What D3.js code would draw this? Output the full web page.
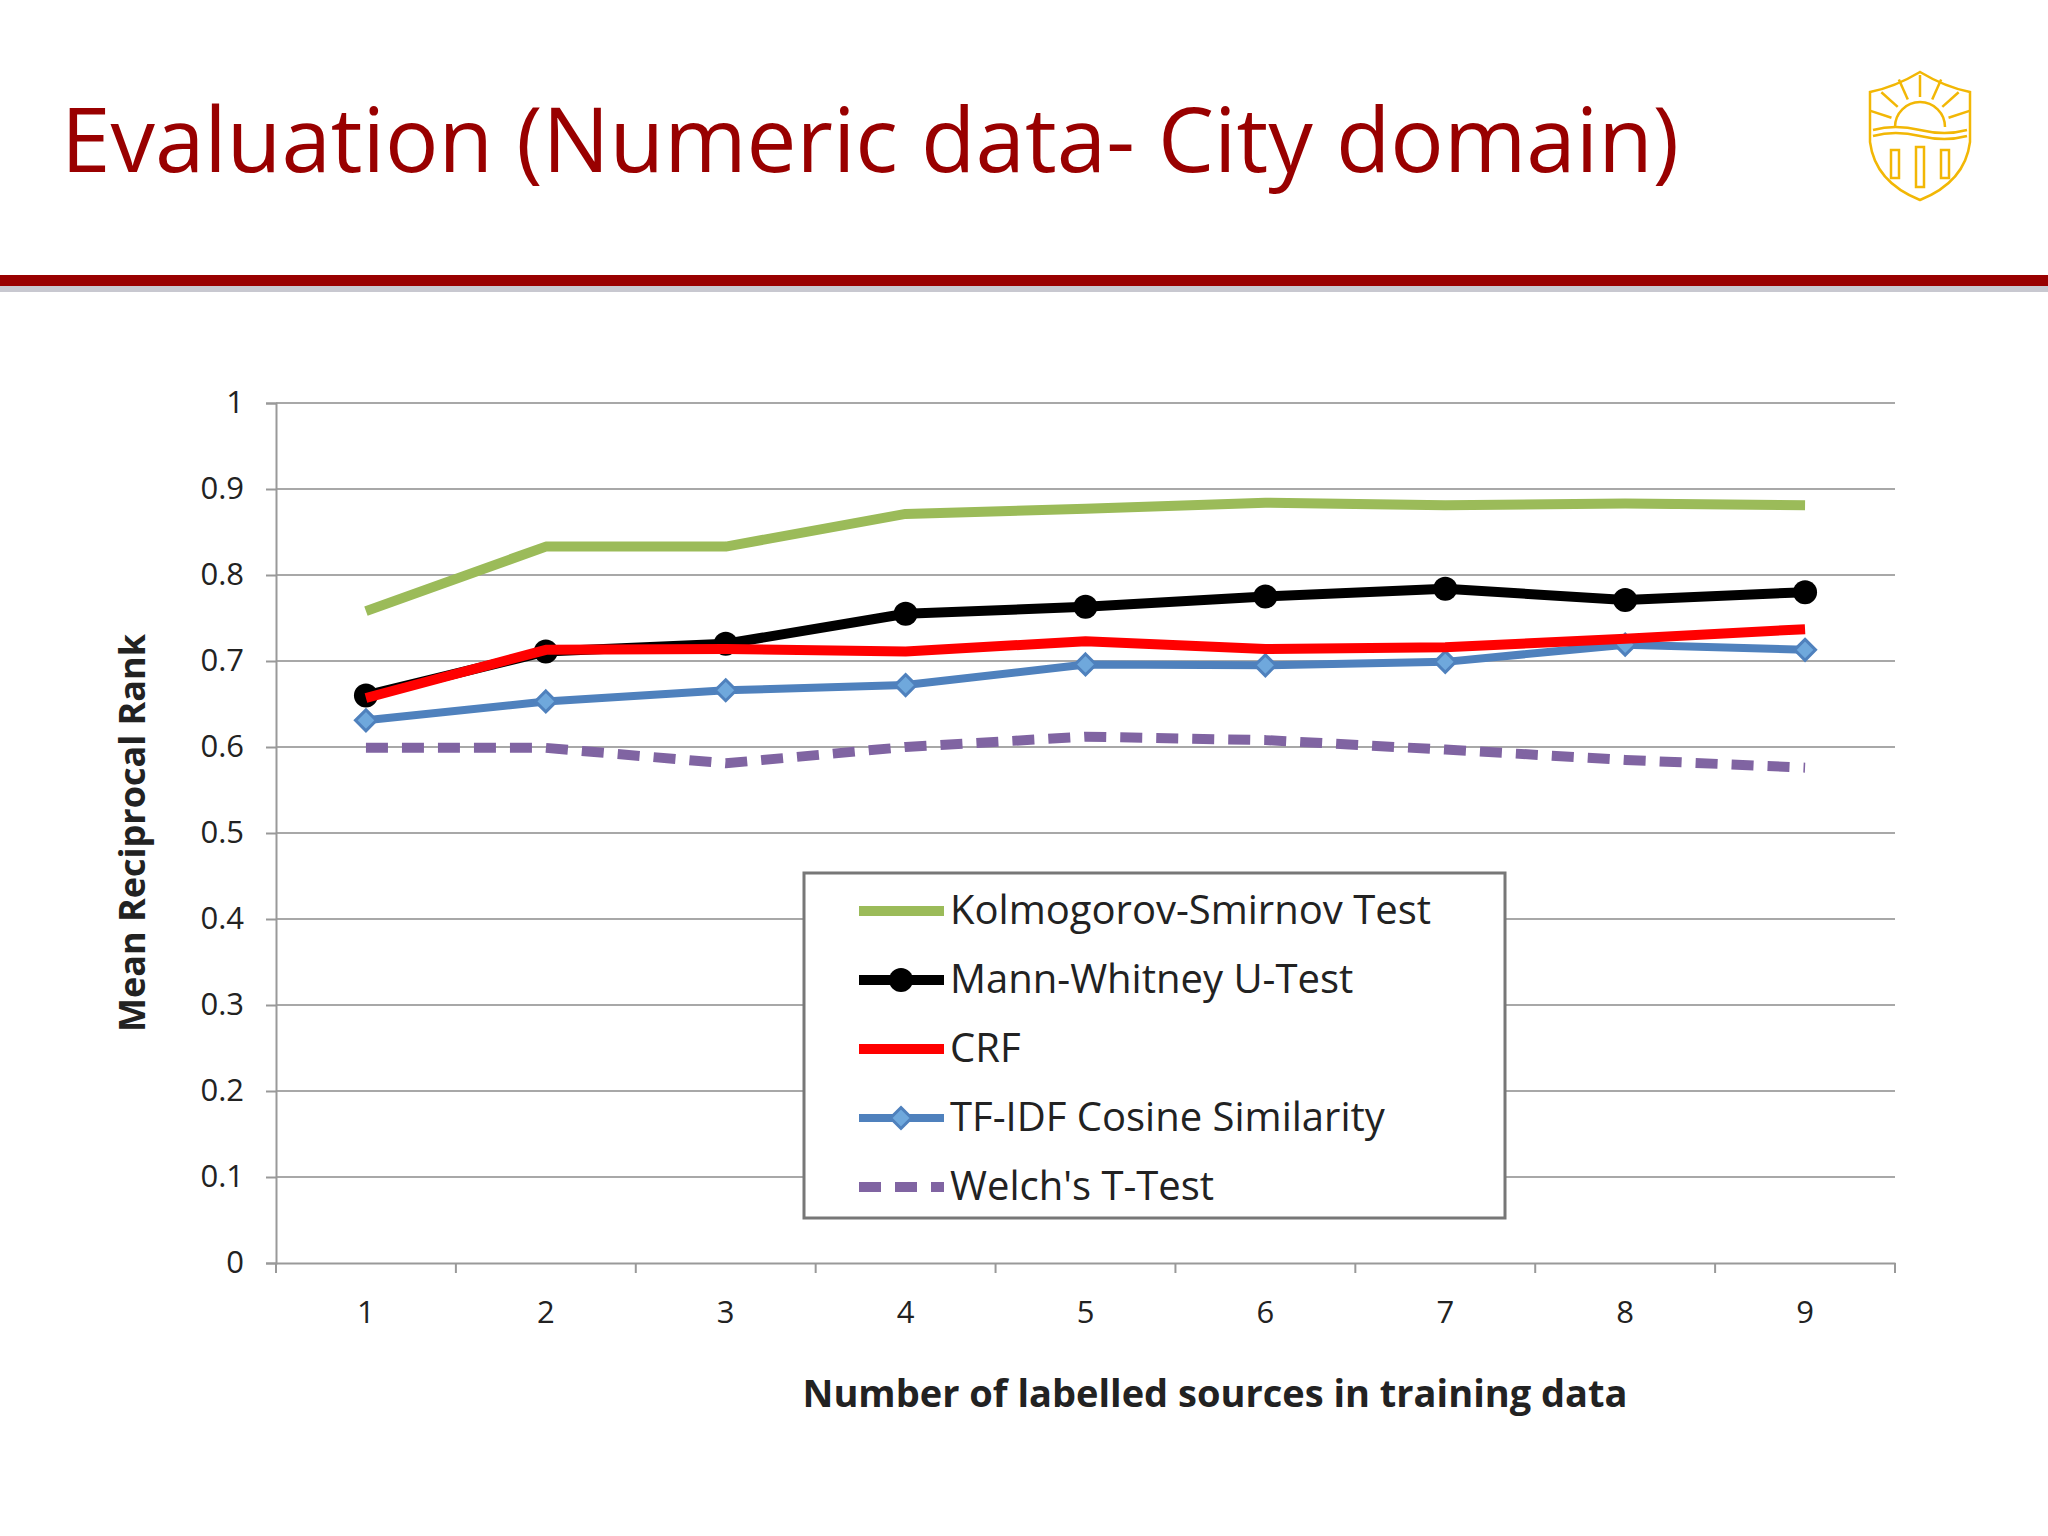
<!DOCTYPE html>
<html><head><meta charset="utf-8">
<script src="https://cdn.jsdelivr.net/npm/d3@7"></script>
<style>body{margin:0;background:#fff}svg{display:block}</style>
</head><body>
<svg id="c" width="2048" height="1536"></svg>
<script>
const categories = [1,2,3,4,5,6,7,8,9];
const yTicks = [0,0.1,0.2,0.3,0.4,0.5,0.6,0.7,0.8,0.9,1];
const seriesNames = ["Kolmogorov-Smirnov Test","Mann-Whitney U-Test","CRF","TF-IDF Cosine Similarity","Welch's T-Test"];
const ksValues = [0.758,0.833,0.833,0.871,0.877,0.884,0.881,0.883,0.881];
const mwValues = [0.660,0.711,0.720,0.755,0.763,0.775,0.784,0.771,0.780];
const crfValues = [0.657,0.713,0.714,0.711,0.723,0.714,0.716,0.726,0.737];
const tfidfValues = [0.631,0.653,0.666,0.672,0.696,0.695,0.699,0.719,0.713];
const welchValues = [0.599,0.599,0.581,0.600,0.612,0.608,0.597,0.585,0.576];

const svg = d3.select("#c");
const F = "'Open Sans', 'Noto Sans', sans-serif";
svg.append("text").attr("x",61).attr("y",172).attr("fill","#990000")
  .attr("font-family",F).attr("font-size",89).text("Evaluation (Numeric data- City domain)");
svg.append("rect").attr("x",0).attr("y",284).attr("width",2048).attr("height",8).attr("fill","#c8c8d0");
svg.append("rect").attr("x",0).attr("y",275).attr("width",2048).attr("height",11).attr("fill","#990000");
const lg = svg.append("g").attr("transform","translate(1870,72)").attr("fill","none").attr("stroke","#f2b705").attr("stroke-width",2.5);
lg.append("path").attr("d","M0,20 Q25,15 50,0 Q75,15 100,20 L100,70 Q95,110 50,128 Q5,110 0,70 Z");
lg.append("path").attr("d","M25,55 A25,25 0 0 1 75,55");
for(let i=0;i<7;i++){const a=Math.PI*(0.1+0.8*i/6);lg.append("line").attr("x1",50-30*Math.cos(a)).attr("y1",55-30*Math.sin(a)).attr("x2",50-52*Math.cos(a)).attr("y2",55-52*Math.sin(a));}
lg.append("path").attr("d","M3,58 Q25,52 50,58 Q75,64 97,58 M3,64 Q25,58 50,64 Q75,70 97,64");
[[25,78],[50,75],[75,78]].forEach(([x,y])=>{lg.append("rect").attr("x",x-4).attr("y",y).attr("width",8).attr("height",x==50?40:28);});

const x0 = 276, x1 = 1895, yTop = 403, yBot = 1263;
const x = d3.scaleBand().domain(categories).range([x0,x1]);
const y = d3.scaleLinear().domain([0,1]).range([yBot,yTop]);
const g = svg.append("g");
g.selectAll(".grid").data(yTicks.slice(1)).join("line").attr("x1",x0).attr("x2",x1)
  .attr("y1",d=>y(d)).attr("y2",d=>y(d)).attr("stroke","#a8a8a8").attr("stroke-width",2);
const ya = g.append("g").attr("transform",`translate(${x0},0)`).call(d3.axisLeft(y).tickValues(yTicks).tickSize(10).tickPadding(22).tickFormat(d=>d3.format("")(d)));
const xa = g.append("g").attr("transform",`translate(0,${yBot})`).call(d3.axisBottom(x).tickSize(0).tickPadding(38));
[ya,xa].forEach(a=>{a.selectAll("path,line").attr("stroke","#999").attr("stroke-width",2);a.selectAll("text").attr("font-family",F).attr("font-size",31).attr("fill","#222");});
g.selectAll(".xt").data(d3.range(categories.length+1)).join("line")
  .attr("x1",i=>x0+i*x.bandwidth()).attr("x2",i=>x0+i*x.bandwidth()).attr("y1",yBot).attr("y2",yBot+10).attr("stroke","#999").attr("stroke-width",2);

svg.append("text").attr("transform",`translate(145,${(yTop+yBot)/2}) rotate(-90)`).attr("text-anchor","middle")
  .attr("font-family",F).attr("font-weight","bold").attr("font-size",36).attr("fill","#222").text("Mean Reciprocal Rank");
svg.append("text").attr("x",1215).attr("y",1407).attr("text-anchor","middle")
  .attr("font-family",F).attr("font-weight","bold").attr("font-size",38).attr("fill","#222").text("Number of labelled sources in training data");

const cx = d=>x(d)+x.bandwidth()/2;
const styles = [
 {vals:ksValues,color:"#9bbb59",w:10},
 {vals:mwValues,color:"#000000",w:10,marker:"circle"},
 {vals:crfValues,color:"#ff0000",w:10},
 {vals:tfidfValues,color:"#4f81bd",w:8,marker:"diamond"},
 {vals:welchValues,color:"#8064a2",w:10,dash:"22,14"}
];
const order=[4,0,1,3,2];
order.forEach(k=>{
  const s=styles[k];
  const line=d3.line().x((d,i)=>cx(categories[i])).y(d=>y(d));
  g.append("path").datum(s.vals).attr("d",line).attr("fill","none").attr("stroke",s.color)
   .attr("stroke-width",s.w).attr("stroke-dasharray",s.dash||null).attr("stroke-linejoin","round");
  if(s.marker=="circle") g.selectAll(null).data(s.vals).join("circle").attr("cx",(d,i)=>cx(categories[i])).attr("cy",d=>y(d)).attr("r",12).attr("fill","#000");
  if(s.marker=="diamond") g.selectAll(null).data(s.vals).join("path").attr("d",d3.symbol(d3.symbolDiamond2,280)).attr("transform",(d,i)=>`translate(${cx(categories[i])},${y(d)})`).attr("fill","#6fa8dc").attr("stroke","#4f81bd").attr("stroke-width",3);
});
const L = svg.append("g").attr("transform","translate(804,873)");
L.append("rect").attr("width",701).attr("height",345).attr("fill","#fff").attr("stroke","#777").attr("stroke-width",3);
seriesNames.forEach((n,i)=>{
  const s=styles[i], yy=38+i*69;
  L.append("line").attr("x1",55).attr("x2",140).attr("y1",yy).attr("y2",yy).attr("stroke",s.color).attr("stroke-width",s.w).attr("stroke-dasharray",s.dash||null);
  if(s.marker=="circle") L.append("circle").attr("cx",97).attr("cy",yy).attr("r",12).attr("fill","#000");
  if(s.marker=="diamond") L.append("path").attr("d",d3.symbol(d3.symbolDiamond2,280)).attr("transform",`translate(97,${yy})`).attr("fill","#6fa8dc").attr("stroke","#4f81bd").attr("stroke-width",3);
  L.append("text").attr("x",146).attr("y",yy+13).attr("font-family",F).attr("font-size",40).attr("fill","#222").text(n);
});
</script>
</body></html>
